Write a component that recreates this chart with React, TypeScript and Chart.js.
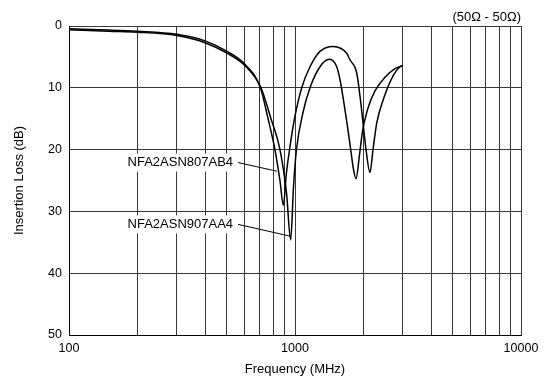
import React, { useEffect, useRef } from 'react';
import { Chart, registerables } from 'chart.js';

Chart.register(...registerables);

// ---------- data ----------
const SERIES_NAMES = ['NFA2ASN807AB4', 'NFA2ASN907AA4'];

const FREQ_807 = [100, 150, 200, 300, 400, 500, 600, 703, 760, 815, 858, 888, 915, 946, 995, 1071, 1165, 1290, 1477, 1693, 1752, 1875, 1949, 2004, 2062, 2147, 2214, 2299, 2459, 2723, 2915, 3000];
const LOSS_807 = [0.45, 0.65, 0.85, 1.35, 2.4, 4.1, 6.2, 10, 15, 20, 25, 29, 24, 20, 15, 10, 6.6, 4.1, 3.3, 4.4, 5.5, 7.6, 12, 16, 20, 23.7, 20, 15.7, 11.9, 8, 6.6, 6.4];

const FREQ_907 = [100, 150, 200, 300, 400, 500, 600, 707, 783, 858, 917, 957, 985, 1015, 1085, 1165, 1290, 1418, 1530, 1582, 1639, 1703, 1764, 1815, 1862, 1930, 1990, 2094, 2259, 2502, 2770, 3000];
const LOSS_907 = [0.6, 0.85, 1.0, 1.55, 2.7, 4.4, 6.4, 10, 15, 20, 27, 34.6, 26, 20, 14, 10, 6.6, 5.4, 6.6, 8.7, 12, 16, 20, 23.2, 24.7, 20.8, 17, 13.5, 10.5, 8.3, 6.9, 6.4];

const X_GRID_TICKS = [100, 200, 300, 400, 500, 600, 700, 800, 900, 1000, 2000, 3000, 4000, 5000, 6000, 7000, 8000, 9000, 10000];
const X_LABEL_TICKS = [100, 1000, 10000];
const Y_TICKS = [0, 10, 20, 30, 40, 50];

const X_TITLE = 'Frequency (MHz)';
const Y_TITLE = 'Insertion Loss (dB)';
const CONDITION = '(50Ω - 50Ω)';

// callouts (label anchor and leader end, in data units)
const CALLOUT_TEXT = ['NFA2ASN807AB4', 'NFA2ASN907AA4'];
const CALLOUT_TEXT_FREQ = [532, 532];
const CALLOUT_TEXT_LOSS = [22.1, 32.1];
const CALLOUT_END_FREQ = [832, 950];
const CALLOUT_END_LOSS = [23.5, 34.0];

// ---------- styles ----------
const FONT = '"Liberation Sans", Arial, Helvetica, sans-serif';
const GRID = '#3a3a3a';

const overlayPlugin = {
  id: 'overlay',
  afterDatasetsDraw(chart: any) {
    const { ctx, chartArea } = chart;
    const x = chart.scales.x;
    const y = chart.scales.y;
    ctx.save();
    ctx.font = `13px ${FONT}`;
    ctx.textAlign = 'right';
    ctx.textBaseline = 'middle';
    for (let i = 0; i < CALLOUT_TEXT.length; i++) {
      const tx = x.getPixelForValue(CALLOUT_TEXT_FREQ[i]);
      const ty = y.getPixelForValue(CALLOUT_TEXT_LOSS[i]);
      const ex = x.getPixelForValue(CALLOUT_END_FREQ[i]);
      const ey = y.getPixelForValue(CALLOUT_END_LOSS[i]);
      const w = ctx.measureText(CALLOUT_TEXT[i]).width;
      ctx.fillStyle = '#ffffff';
      ctx.fillRect(tx - w - 3, ty - 9, w + 6, 18);
      ctx.fillStyle = '#000000';
      ctx.fillText(CALLOUT_TEXT[i], tx, ty);
      ctx.beginPath();
      ctx.moveTo(tx + 5, ty);
      ctx.lineTo(ex, ey);
      ctx.lineWidth = 1;
      ctx.strokeStyle = '#000000';
      ctx.stroke();
    }
    ctx.fillStyle = '#000000';
    ctx.fillText(CONDITION, chartArea.right, 17);
    ctx.restore();
  },
};

export default function App() {
  const ref = useRef<HTMLCanvasElement | null>(null);

  useEffect(() => {
    if (!ref.current) return;
    const mk = (f: number[], l: number[]) => f.map((v, i) => ({ x: v, y: l[i] }));
    const chart = new Chart(ref.current, {
      type: 'line',
      data: {
        datasets: [
          {
            label: SERIES_NAMES[0],
            data: mk(FREQ_807, LOSS_807),
            borderColor: '#000000',
            borderWidth: 1.5,
            pointRadius: 0,
            cubicInterpolationMode: 'monotone',
            fill: false,
          },
          {
            label: SERIES_NAMES[1],
            data: mk(FREQ_907, LOSS_907),
            borderColor: '#000000',
            borderWidth: 1.5,
            pointRadius: 0,
            cubicInterpolationMode: 'monotone',
            fill: false,
          },
        ],
      },
      options: {
        animation: false,
        responsive: false,
        devicePixelRatio: 1,
        layout: { padding: { top: 26, right: 29, left: 0, bottom: 0 } },
        plugins: { legend: { display: false }, tooltip: { enabled: false } },
        scales: {
          x: {
            type: 'logarithmic',
            min: 100,
            max: 10000,
            afterBuildTicks: (s: any) => {
              s.ticks = X_GRID_TICKS.map((v) => ({ value: v }));
            },
            afterFit: (s: any) => {
              s.height = 43;
              s.paddingLeft = 0;
              s.paddingRight = 0;
            },
            grid: { color: GRID, lineWidth: 1, drawTicks: false },
            border: { color: '#000000', width: 1 },
            ticks: {
              autoSkip: false,
              maxRotation: 0,
              padding: 6,
              color: '#000000',
              font: { family: FONT, size: 12.5 },
              callback: (v: any) => (X_LABEL_TICKS.includes(Number(v)) ? String(v) : ''),
            },
            title: {
              display: true,
              text: X_TITLE,
              color: '#000000',
              font: { family: FONT, size: 13 },
              padding: { top: 0, bottom: 1 },
            },
          },
          y: {
            type: 'linear',
            reverse: true,
            min: 0,
            max: 50,
            afterBuildTicks: (s: any) => {
              s.ticks = Y_TICKS.map((v) => ({ value: v }));
            },
            afterFit: (s: any) => {
              s.width = 69;
              s.paddingTop = 0;
              s.paddingBottom = 0;
            },
            grid: { color: GRID, lineWidth: 1, drawTicks: false },
            border: { color: '#000000', width: 1 },
            ticks: {
              padding: 7,
              color: '#000000',
              font: { family: FONT, size: 12.5 },
            },
            title: {
              display: true,
              text: Y_TITLE,
              color: '#000000',
              font: { family: FONT, size: 13 },
              padding: { top: 12, bottom: 0 },
            },
          },
        },
      },
      plugins: [overlayPlugin],
    });
    return () => chart.destroy();
  }, []);

  return (
    <div style={{ position: 'absolute', left: 0, top: 0, width: 550, height: 378, background: '#ffffff' }}>
      <canvas ref={ref} width={550} height={378} style={{ display: 'block' }} />
    </div>
  );
}
